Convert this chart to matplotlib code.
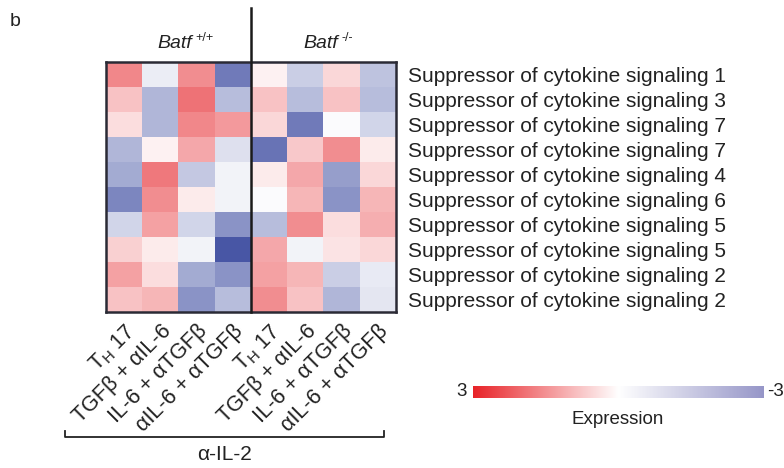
import numpy as np
import matplotlib
matplotlib.use("Agg")
import matplotlib.pyplot as plt
from matplotlib.colors import LinearSegmentedColormap

plt.rcParams['font.family'] = ['Liberation Sans', 'DejaVu Sans']
plt.rcParams['mathtext.fontset'] = 'custom'
plt.rcParams['mathtext.rm'] = 'Liberation Sans'
plt.rcParams['mathtext.it'] = 'Liberation Sans:italic'

genes = ["Suppressor of cytokine signaling 1",
         "Suppressor of cytokine signaling 3",
         "Suppressor of cytokine signaling 7",
         "Suppressor of cytokine signaling 7",
         "Suppressor of cytokine signaling 4",
         "Suppressor of cytokine signaling 6",
         "Suppressor of cytokine signaling 5",
         "Suppressor of cytokine signaling 5",
         "Suppressor of cytokine signaling 2",
         "Suppressor of cytokine signaling 2"]

conditions = ["T$_{\\mathrm{H}}$ 17", "TGFβ + αIL-6", "IL-6 + αTGFβ", "αIL-6 + αTGFβ"]
genotype_names = ["Batf", "Batf"]
genotype_sups = ["+/+", "-/-"]

values = np.array([
    [ 1.8, -0.3,  1.7, -2.2,  0.2, -0.8,  0.6, -1.0],
    [ 0.9, -1.2,  2.1, -1.1,  0.9, -1.1,  0.9, -1.1],
    [ 0.5, -1.2,  1.8,  1.5,  0.6, -2.2, -0.05, -0.7],
    [-1.2,  0.2,  1.3, -0.5, -2.3,  0.8,  1.7,  0.3],
    [-1.4,  2.0, -0.9, -0.2,  0.3,  1.3, -1.6,  0.6],
    [-2.0,  1.7,  0.3, -0.2, -0.05, 1.1, -1.8,  1.1],
    [-0.7,  1.4, -0.7, -1.8, -1.1,  1.7,  0.5,  1.2],
    [ 0.7,  0.3, -0.2, -2.8,  1.3, -0.2,  0.4,  0.6],
    [ 1.4,  0.5, -1.4, -1.8,  1.4,  1.1, -0.8, -0.35],
    [ 0.9,  1.1, -1.8, -1.1,  1.7,  0.9, -1.2, -0.4],
])

cmap = LinearSegmentedColormap.from_list(
    "rwb", [(0.0, (60/255, 75/255, 160/255)), (0.5, (1, 1, 1)), (1.0, (232/255, 55/255, 60/255))])
cbar_cmap = LinearSegmentedColormap.from_list(
    "rwb2", [(0.0, (150/255, 150/255, 200/255)), (0.5, (1, 1, 1)), (1.0, (232/255, 35/255, 40/255))])

W, H = 784, 468
fig = plt.figure(figsize=(W/100, H/100), dpi=100)

def fx(px): return px / W
def fy(py): return 1 - py / H

left, right, top, bottom = 106, 396, 62, 312
ax = fig.add_axes([fx(left), fy(bottom), fx(right - left), fy(top) - fy(bottom)])
ax.imshow(values, cmap=cmap, vmin=-3, vmax=3, aspect='auto', interpolation='nearest')
ax.set_xticks(range(8))
ax.set_xticklabels(conditions * 2, rotation=45, ha='right', va='top',
                   rotation_mode='anchor', fontsize=15.5, color='#222222')
ax.tick_params(axis='x', length=0, pad=6)
ax.set_yticks(range(10))
ax.set_yticklabels(genes, fontsize=15, color='#222222')
ax.yaxis.tick_right()
ax.tick_params(axis='y', length=0, pad=9)
for s in ax.spines.values():
    s.set_linewidth(1.8)
    s.set_color('#2a2a35')

# vertical divider line
fig.add_artist(plt.Line2D([fx(251), fx(251)], [fy(8), fy(bottom)], color='#1a1a1a', lw=1.8))

# headers
for xs, name, sup in [(157, genotype_names[0], genotype_sups[0]), (303, genotype_names[1], genotype_sups[1])]:
    t = fig.text(fx(xs), fy(43), name, style='italic', fontsize=14, ha='left', va='center', color='#222222')
    fig.canvas.draw()
    bb = t.get_window_extent()
    fig.text(bb.x1 / W + fx(4), fy(38), sup, fontsize=9, ha='left', va='center', color='#222222')
fig.text(fx(15), fy(22), "b", fontsize=14, ha='center', va='center', color='#222222')

# bracket
bx0, bx1, by = 65, 384, 437
fig.add_artist(plt.Line2D([fx(bx0), fx(bx0), fx(bx1), fx(bx1)],
                          [fy(by - 6), fy(by), fy(by), fy(by - 6)], color='#222222', lw=1.3))
fig.text(fx(224), fy(454), "α-IL-2", fontsize=15, ha='center', va='center', color='#222222')

# colorbar
cax = fig.add_axes([fx(473), fy(398), fx(764 - 473), fy(386) - fy(398)])
grad = np.linspace(3, -3, 256).reshape(1, -1)
cax.imshow(grad, cmap=cbar_cmap, vmin=-3, vmax=3, aspect='auto')
cax.set_xticks([]); cax.set_yticks([])
for s in cax.spines.values():
    s.set_visible(False)
fig.text(fx(462), fy(392), "3", fontsize=13.5, ha='center', va='center', color='#222222')
fig.text(fx(767), fy(392), "-3", fontsize=13.5, ha='left', va='center', color='#222222')
fig.text(fx(618), fy(420), "Expression", fontsize=13.5, ha='center', va='center', color='#222222')

fig.savefig("out.png", dpi=100)
